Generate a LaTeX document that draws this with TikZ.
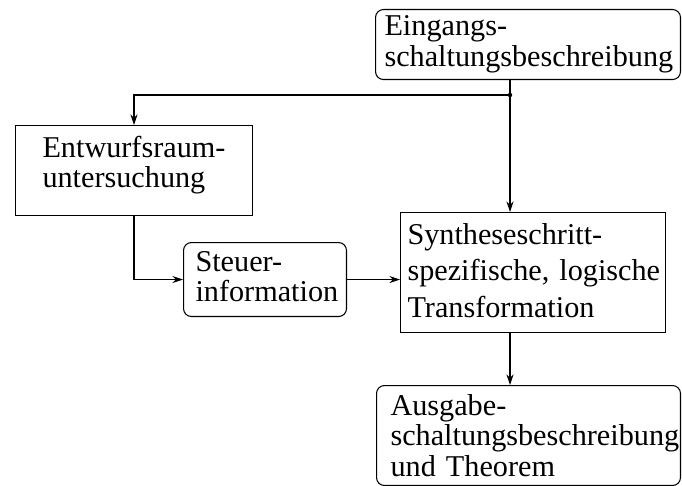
\documentclass[tikz,border=0pt]{standalone}
\usepackage{fontspec}
\setmainfont{Liberation Serif}
\usetikzlibrary{arrows.meta}
\hyphenpenalty=10000
\exhyphenpenalty=10000
\begin{document}
\begin{tikzpicture}[x=0.02cm,y=-0.02cm,
  line width=0.6pt,
  arr/.style={-{Stealth[length=6pt,width=4pt]}},
  box/.style={draw, anchor=north west, inner sep=0pt},
  rbox/.style={box, rounded corners=4.5pt},
  label text/.style={anchor=base west, align=left, inner sep=0pt,
    text width=7cm, font=\fontsize{17.2pt}{#1}\selectfont}]
\useasboundingbox (0,0) rectangle (682,486);

% frames
\node[rbox, minimum width=6.1cm,  minimum height=1.4cm]  (top)  at (375,9)   {};
\node[box,  minimum width=4.74cm, minimum height=1.8cm]  (entw) at (15,125)  {};
\node[rbox, minimum width=3.26cm, minimum height=1.48cm] (steu) at (183,242) {};
\node[box,  minimum width=5.3cm,  minimum height=2.4cm]  (syn)  at (400,212) {};
\node[rbox, minimum width=6.08cm, minimum height=2.0cm]  (aus)  at (376,385) {};

% texts (anchored at the baseline of their first line)
\node[label text=17.1pt] (top-t)  at (384,36)  {Eingangs-\\schaltungsbeschreibung};
\node[label text=17.6pt] (entw-t) at (42,157)  {Entwurfsraum-\\untersuchung};
\node[label text=17.1pt] (steu-t) at (195,271) {Steuer-\\information};
\node[label text=21pt]   (syn-t)  at (407,244) {Syntheseschritt-\\spezifische,~logische\\Transformation};
\node[label text=17.6pt] (aus-t)  at (390,415) {Ausgabe-\\schaltungsbeschreibung\\und~Theorem};

% connectors
\coordinate (J) at (510,95);
\draw (J |- top.south) -- (J);
\fill (J) circle (2.2);
\draw[arr] (J) -| (entw.north);
\draw[arr] (J) -- (J |- syn.north);
\draw[arr] (entw.south) |- (steu.west);
\draw[arr] (steu.east) -- (steu.east -| syn.west);
\draw[arr] (J |- syn.south) -- (J |- aus.north);
\end{tikzpicture}
\end{document}
